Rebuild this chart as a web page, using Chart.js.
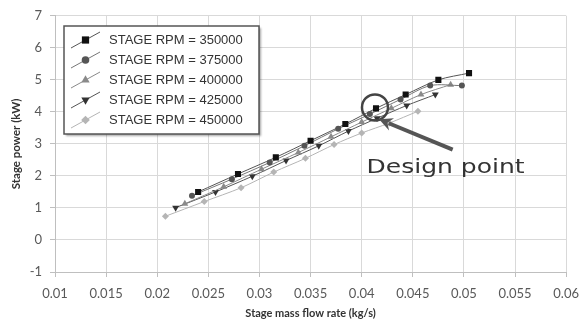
<!DOCTYPE html>
<html>
<head>
<meta charset="utf-8">
<script src="https://cdn.jsdelivr.net/npm/chart.js@4.4.1/dist/chart.umd.min.js"></script>
<style>
  html, body { margin: 0; padding: 0; background: #fff; }
  #wrap { width: 588px; height: 327px; }
</style>
</head>
<body>
<div id="wrap"><canvas id="power-chart"></canvas></div>
<script>
const rpmLabels = ['STAGE RPM = 350000', 'STAGE RPM = 375000', 'STAGE RPM = 400000', 'STAGE RPM = 425000', 'STAGE RPM = 450000'];

const flow350 = [0.0240, 0.0279, 0.0316, 0.0350, 0.0384, 0.0414, 0.0443, 0.0475, 0.0505];
const power350 = [1.50, 2.06, 2.58, 3.10, 3.62, 4.11, 4.54, 5.00, 5.21];
const flow375 = [0.0234, 0.0273, 0.0310, 0.0344, 0.0377, 0.0408, 0.0438, 0.0467, 0.0498];
const power375 = [1.38, 1.90, 2.42, 2.94, 3.47, 3.93, 4.39, 4.82, 4.82];
const flow400 = [0.0227, 0.0265, 0.0302, 0.0338, 0.0370, 0.0400, 0.0429, 0.0458, 0.0487];
const power400 = [1.13, 1.66, 2.21, 2.73, 3.22, 3.68, 4.11, 4.54, 4.85];
const flow425 = [0.0218, 0.0257, 0.0293, 0.0326, 0.0358, 0.0387, 0.0415, 0.0444, 0.0472];
const power425 = [1.01, 1.50, 1.99, 2.48, 2.94, 3.40, 3.80, 4.20, 4.54];
const flow450 = [0.0208, 0.0246, 0.0282, 0.0314, 0.0345, 0.0373, 0.0400, 0.0427, 0.0455];
const power450 = [0.74, 1.20, 1.63, 2.12, 2.55, 2.98, 3.34, 3.65, 4.02];

// annotation anchor (data units)
const designPoint = { x: 0.0413, y: 4.14 };
const arrowFrom = { x: 0.0489, y: 2.82 };
const arrowTo = { x: 0.0417, y: 3.77 };
const designText = { x: 0.04048, y: 2.09 };

function pts(xs, ys) {
  return xs.map((x, i) => ({ x: x, y: ys[i] }));
}

const styles = [
  { marker: '#111111', line: '#555555', pointStyle: 'rect', radius: 4.3, rotation: 0 },
  { marker: '#555555', line: '#777777', pointStyle: 'circle', radius: 3, rotation: 0 },
  { marker: '#8a8a8a', line: '#8a8a8a', pointStyle: 'triangle', radius: 4, rotation: 0 },
  { marker: '#333333', line: '#555555', pointStyle: 'triangle', radius: 4, rotation: 180 },
  { marker: '#b5b5b5', line: '#b5b5b5', pointStyle: 'rectRot', radius: 3.5, rotation: 0 },
];

const series = [pts(flow350, power350), pts(flow375, power375), pts(flow400, power400), pts(flow425, power425), pts(flow450, power450)];

const datasets = series.map((data, i) => ({
  label: rpmLabels[i],
  data: data,
  borderColor: styles[i].line,
  borderWidth: 1,
  backgroundColor: styles[i].marker,
  pointBackgroundColor: styles[i].marker,
  pointBorderColor: styles[i].marker,
  pointBorderWidth: 0,
  pointStyle: styles[i].pointStyle,
  pointRotation: styles[i].rotation,
  pointRadius: styles[i].radius,
  tension: 0.3,
  showLine: true,
}));

const boxLegend = {
  id: 'boxLegend',
  afterDraw(chart) {
    const ctx = chart.ctx;
    ctx.save();
    ctx.shadowColor = 'rgba(0,0,0,0.35)';
    ctx.shadowOffsetX = 2;
    ctx.shadowOffsetY = 2;
    ctx.shadowBlur = 2;
    ctx.fillStyle = '#ffffff';
    ctx.fillRect(64, 26, 195, 108);
    ctx.shadowColor = 'transparent';
    ctx.strokeStyle = '#555555';
    ctx.lineWidth = 1.5;
    ctx.strokeRect(64, 26, 195, 108);
    ctx.font = '13px "Liberation Sans", Arial, sans-serif';
    ctx.textBaseline = 'middle';
    ctx.textAlign = 'left';
    styles.forEach((s, i) => {
      const y = 40 + i * 20;
      ctx.strokeStyle = s.line;
      ctx.lineWidth = 1;
      ctx.beginPath();
      ctx.moveTo(71, y + 8);
      ctx.lineTo(100, y - 8);
      ctx.stroke();
      ctx.fillStyle = s.marker;
      ctx.strokeStyle = s.marker;
      Chart.helpers.drawPoint(ctx, { pointStyle: s.pointStyle, radius: s.radius + 0.8, rotation: s.rotation, borderWidth: 0 }, 85.5, y);
      ctx.fillStyle = '#333333';
      ctx.fillText(rpmLabels[i], 109, y);
    });
    ctx.restore();
  }
};

const designNote = {
  id: 'designNote',
  afterDraw(chart) {
    const ctx = chart.ctx;
    const xs = chart.scales.x, ys = chart.scales.y;
    ctx.save();
    // circle
    ctx.strokeStyle = '#444444';
    ctx.lineWidth = 2.5;
    ctx.beginPath();
    ctx.arc(xs.getPixelForValue(designPoint.x), ys.getPixelForValue(designPoint.y), 13, 0, Math.PI * 2);
    ctx.stroke();
    // arrow
    const x1 = xs.getPixelForValue(arrowFrom.x), y1 = ys.getPixelForValue(arrowFrom.y);
    const x2 = xs.getPixelForValue(arrowTo.x), y2 = ys.getPixelForValue(arrowTo.y);
    const ang = Math.atan2(y2 - y1, x2 - x1);
    const head = 15;
    ctx.strokeStyle = '#555555';
    ctx.fillStyle = '#555555';
    ctx.lineWidth = 4;
    ctx.beginPath();
    ctx.moveTo(x1, y1);
    ctx.lineTo(x2 - Math.cos(ang) * head * 0.7, y2 - Math.sin(ang) * head * 0.7);
    ctx.stroke();
    ctx.beginPath();
    ctx.moveTo(x2, y2);
    ctx.lineTo(x2 - head * Math.cos(ang - 0.45), y2 - head * Math.sin(ang - 0.45));
    ctx.lineTo(x2 - head * 0.6 * Math.cos(ang), y2 - head * 0.6 * Math.sin(ang));
    ctx.lineTo(x2 - head * Math.cos(ang + 0.45), y2 - head * Math.sin(ang + 0.45));
    ctx.closePath();
    ctx.fill();
    // label
    const tx = xs.getPixelForValue(designText.x), ty = ys.getPixelForValue(designText.y);
    ctx.font = '20px "DejaVu Sans", sans-serif';
    ctx.fillStyle = '#333333';
    ctx.textBaseline = 'alphabetic';
    const w = ctx.measureText('Design point').width;
    ctx.translate(tx, ty);
    ctx.scale(158 / w, 1);
    ctx.fillText('Design point', 0, 0);
    ctx.restore();
  }
};

const ctx = document.getElementById('power-chart');

new Chart(ctx, {
  type: 'scatter',
  data: { datasets: datasets },
  plugins: [boxLegend, designNote],
  options: {
    responsive: true,
    maintainAspectRatio: false,
    animation: false,
    layout: { padding: { top: 11, right: 13, left: 0, bottom: 0 } },
    scales: {
      x: {
        type: 'linear',
        min: 0.01,
        max: 0.06,
        afterFit(scale) { scale.height = 55; },
        ticks: {
          stepSize: 0.005,
          color: '#595959',
          font: { family: 'Lato', size: 13 },
          padding: 9,
          maxRotation: 0,
          callback: (v) => Number(v.toFixed(3)).toString(),
        },
        grid: { color: '#d9d9d9', tickColor: '#bfbfbf', tickLength: 5 },
        border: { color: '#bfbfbf' },
        title: {
          display: true,
          text: 'Stage mass flow rate (kg/s)',
          color: '#333333',
          font: { family: 'Lato', size: 11, weight: 'bold' },
          padding: { top: 0, bottom: 7 },
        },
      },
      y: {
        min: -1,
        max: 7,
        afterFit(scale) { scale.width = 55; },
        ticks: {
          stepSize: 1,
          color: '#595959',
          font: { family: 'Lato', size: 13 },
          padding: 8,
        },
        grid: { color: '#d9d9d9', tickColor: '#bfbfbf', tickLength: 5 },
        border: { color: '#bfbfbf' },
        title: {
          display: true,
          text: 'Stage power (kW)',
          color: '#333333',
          font: { family: 'Lato', size: 11.5, weight: 'bold' },
          padding: { top: 9, bottom: 0 },
        },
      },
    },
    plugins: {
      legend: { display: false },
      tooltip: { enabled: false },
    },
  },
});
</script>
</body>
</html>
